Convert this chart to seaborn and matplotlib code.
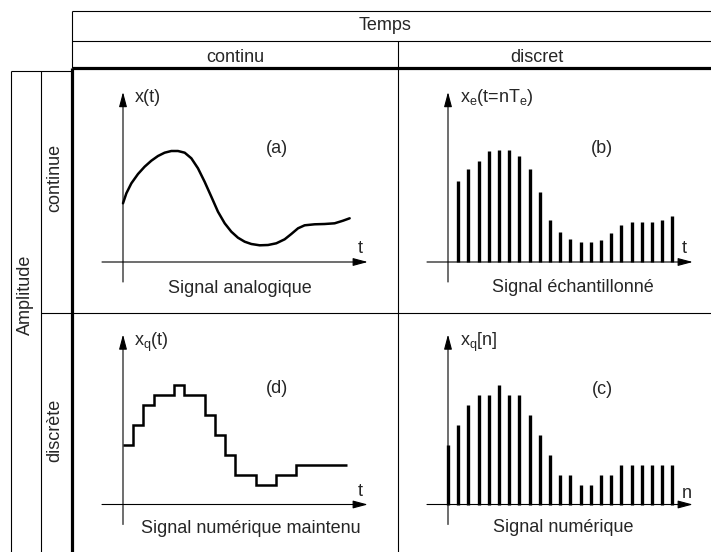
import numpy as np
import matplotlib
matplotlib.use('Agg')
import matplotlib.pyplot as plt
import seaborn as sns

# Style
sns.set_theme(style='white')
plt.rcParams['font.family'] = ['Liberation Sans', 'DejaVu Sans']
plt.rcParams['mathtext.fontset'] = 'custom'
plt.rcParams['mathtext.rm'] = 'Liberation Sans'
plt.rcParams['mathtext.it'] = 'Liberation Sans:italic'

# Data: time in sample periods, amplitude in quantisation steps
curve_t = [0.0, 0.33, 0.82, 1.47, 2.12, 2.78, 3.43, 4.08, 4.74, 5.39, 6.05,
           6.7, 7.35, 8.0, 8.66, 9.31, 9.97, 10.62, 11.27, 11.93, 12.58,
           13.4, 14.22, 15.03, 15.85, 16.5, 17.16, 17.81, 18.79, 19.77,
           20.75, 21.57, 22.22]
curve_x = [5.87, 6.87, 7.87, 8.8, 9.53, 10.13, 10.6, 10.93, 11.1, 11.1, 10.93,
           10.37, 9.37, 8.03, 6.53, 5.03, 3.87, 3.03, 2.43, 2.03, 1.8,
           1.67, 1.7, 1.87, 2.27, 2.8, 3.37, 3.67, 3.77, 3.8,
           3.87, 4.13, 4.37]

sample_n = list(range(1, 23))
sample_x = [8.1, 9.3, 10.1, 11.1, 11.2, 11.2, 10.6, 9.3, 7.0, 4.2, 3.0,
            2.3, 2.0, 2.0, 2.2, 2.9, 3.7, 4.0, 4.0, 4.0, 4.2, 4.6]

quant_n = list(range(0, 23))
quant_x = [6, 8, 10, 11, 11, 12, 11, 11, 9, 7, 5, 3, 3, 2, 2, 3, 3,
           4, 4, 4, 4, 4, 4]

col_header = 'Temps'
col_labels = ['continu', 'discret']
row_header = 'Amplitude'
row_labels = ['continue', 'discrète']

panel_tags = ['(a)', '(b)', '(d)', '(c)']
y_labels = ['x(t)', r'x$_\mathrm{e}$(t=nT$_\mathrm{e}$)',
            r'x$_\mathrm{q}$(t)', r'x$_\mathrm{q}$[n]']
x_labels = ['t', 't', 't', 'n']
captions = ['Signal analogique', 'Signal échantillonné',
            'Signal numérique maintenu', 'Signal numérique']

# Layout (pixels of the 711x552 picture)
W, H = 711, 552
SX, SY = 10.2, 10.0
FS = 13

fig = plt.figure(figsize=(W / 100, H / 100), dpi=100)
bg = fig.add_axes([0, 0, 1, 1])
bg.set_xlim(0, W)
bg.set_ylim(H, 0)
bg.axis('off')

thin = dict(color='black', lw=0.8, solid_capstyle='butt')
thick = dict(color='black', lw=2.3, solid_capstyle='butt')

# table frame
bg.plot([72, W], [11, 11], **thin)
bg.plot([72, W], [41, 41], **thin)
bg.plot([72, W], [68, 68], **thick)
bg.plot([72, 72], [11, 68], **thin)
bg.plot([72, 72], [68, H], **thick)
bg.plot([398, 398], [41, H], **thin)
bg.plot([41, W], [313, 313], **thin)
bg.plot([11, 72], [71, 71], **thin)
bg.plot([11, 11], [71, H], **thin)
bg.plot([41, 41], [71, H], **thin)

# headers
bg.text(385, 30.5, col_header, fontsize=FS, ha='center', va='baseline')
bg.text(235, 61.5, col_labels[0], fontsize=FS, ha='center', va='baseline')
bg.text(537, 61.5, col_labels[1], fontsize=FS, ha='center', va='baseline')
bg.text(25, 295, row_header, fontsize=FS, ha='center', va='center', rotation=90)
bg.text(55, 178, row_labels[0], fontsize=FS, ha='center', va='center', rotation=90)
bg.text(55, 430, row_labels[1], fontsize=FS, ha='center', va='center', rotation=90)


def panel_axes(box, origin):
    x0, y0, x1, y1 = box
    ox, oy = origin
    ax = fig.add_axes([x0 / W, 1 - y1 / H, (x1 - x0) / W, (y1 - y0) / H])
    ax.set_xlim((x0 - ox) / SX, (x1 - ox) / SX)
    ax.set_ylim((oy - y1) / SY, (oy - y0) / SY)
    ax.axis('off')
    ax.patch.set_alpha(0)
    arrow = dict(arrowstyle='-|>,head_length=0.45,head_width=0.12',
                 color='black', lw=0.8, shrinkA=0, shrinkB=0,
                 mutation_scale=20)
    ax.annotate('', xy=(24.0, 0), xytext=(-2.06, 0), arrowprops=arrow)
    ax.annotate('', xy=(0, 17.0), xytext=(0, -2.0), arrowprops=arrow)
    return ax


boxes = [(72, 68, 398, 313), (398, 68, W, 313),
         (72, 313, 398, H), (398, 313, W, H)]
origins = [(123, 262), (448, 262), (123, 504.5), (448, 504.5)]
axes = [panel_axes(b, o) for b, o in zip(boxes, origins)]
ax_a, ax_b, ax_d, ax_c = axes

# (a) analog signal
sns.lineplot(x=curve_t, y=curve_x, ax=ax_a, color='black', lw=1.8,
             sort=False, solid_joinstyle='round')
# (b) sampled signal
ax_b.vlines(sample_n, 0, sample_x, colors='black', lw=2.4)
# (d) held quantised signal
ax_d.stairs(quant_x[:-1], edges=quant_n, baseline=None, color='black', lw=1.8)
# (c) digital signal
ax_c.vlines(quant_n, 0, quant_x, colors='black', lw=2.4)

# panel texts
ylab_pos = [(135, 101.5), (460, 101.5), (134, 346), (460, 346)]
tag_pos = [(277, 153), (602, 153), (277, 393), (602, 394)]
xlab_pos = [(360, 253), (684, 253), (360, 496), (687, 498)]
cap_pos = [(240, 293), (573, 292), (251, 533), (563, 532)]
for i in range(4):
    bg.text(*ylab_pos[i], y_labels[i], fontsize=FS, ha='left', va='baseline')
    bg.text(*tag_pos[i], panel_tags[i], fontsize=FS, ha='center', va='baseline')
    bg.text(*xlab_pos[i], x_labels[i], fontsize=FS, ha='center', va='baseline')
    bg.text(*cap_pos[i], captions[i], fontsize=FS, ha='center', va='baseline')

fig.savefig('out.png', dpi=100)
